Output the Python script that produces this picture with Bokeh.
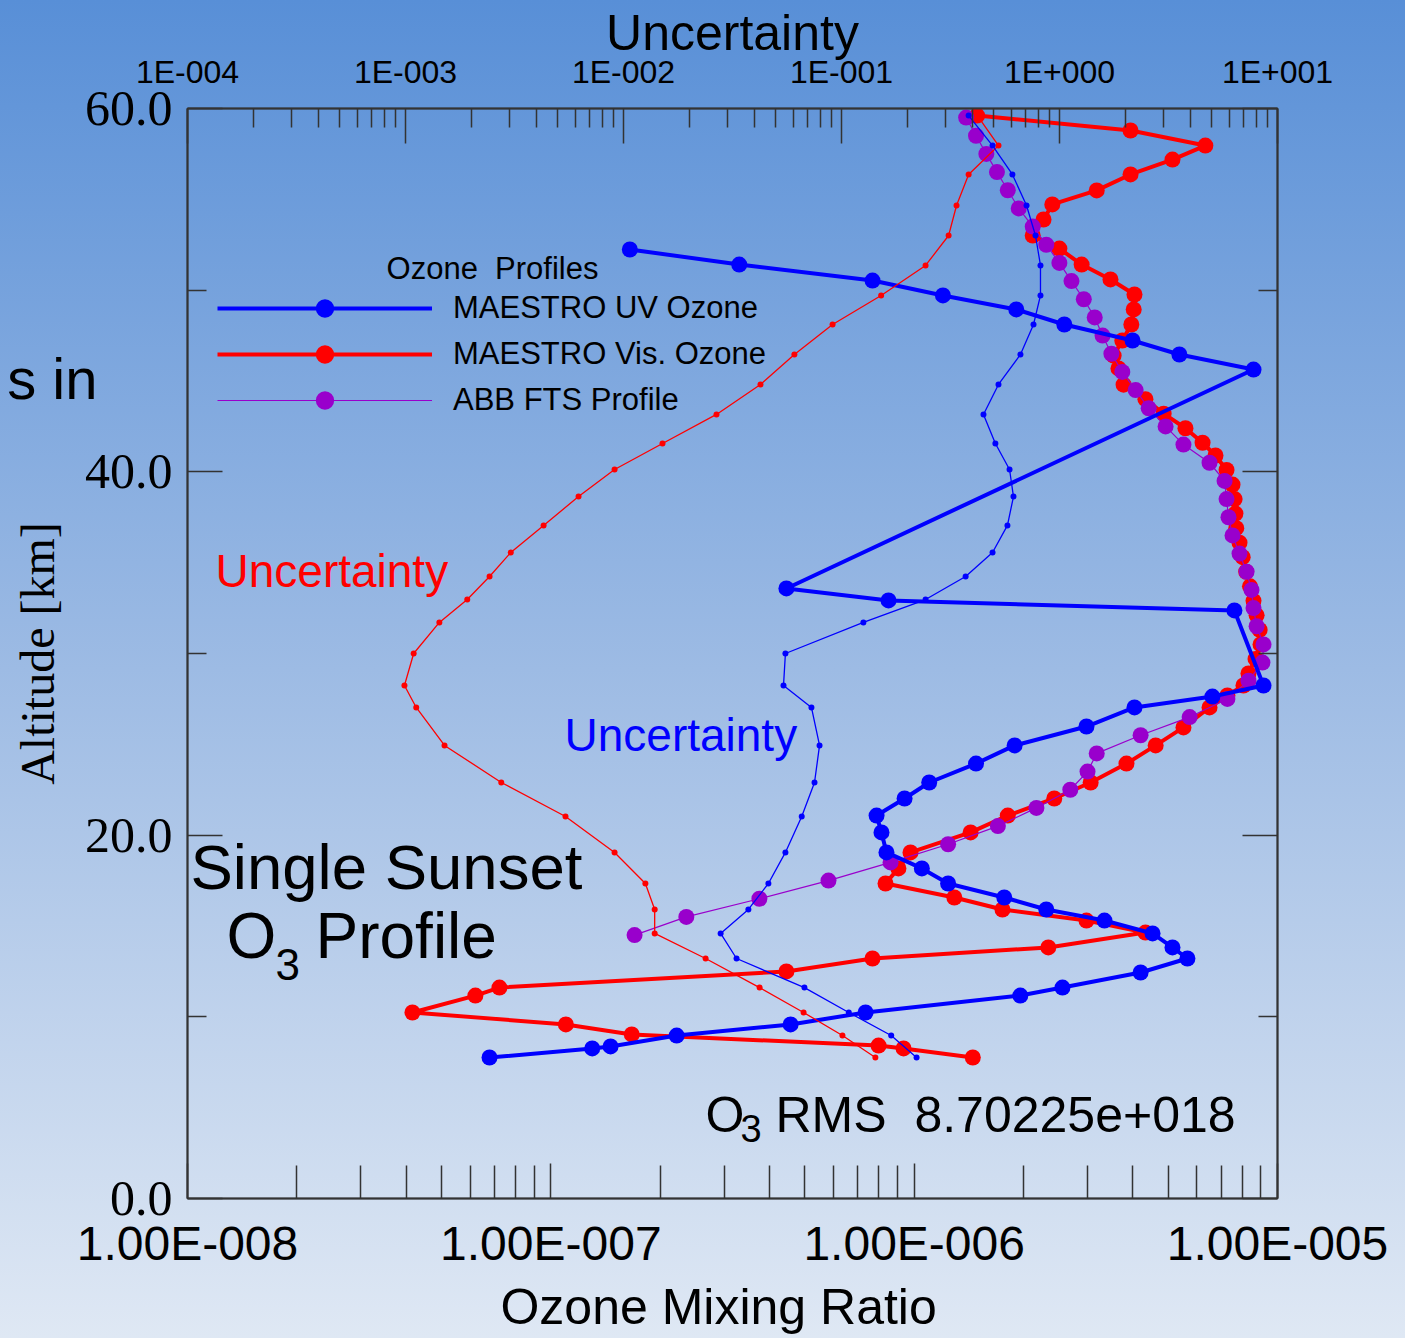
from bokeh.plotting import figure
from bokeh.models import (Range1d, LogAxis, LinearAxis, LogScale, FixedTicker,
                          Legend, LegendItem, Label)
from bokeh.embed import file_html
from bokeh.resources import INLINE

# ---------------------------------------------------------------- data
# MAESTRO UV ozone profile: altitude [km], mixing ratio
uv_alt = [7.76, 8.26, 8.37, 8.97, 9.58, 10.24, 11.17, 11.61, 12.44, 13.21,
          13.82, 14.59, 15.30, 15.91, 16.57, 17.34, 18.17, 19.05, 20.15, 21.08,
          22.02, 22.90, 23.94, 24.94, 25.98, 27.03, 27.63, 28.24, 32.37, 32.92,
          33.58, 45.63, 46.46, 47.23, 48.11, 48.94, 49.71, 50.53, 51.41, 52.24]
uv_o3 = [6.78e-8, 1.30e-7, 1.46e-7, 2.22e-7, 4.57e-7, 7.35e-7, 1.96e-6, 2.56e-6, 4.20e-6, 5.65e-6,
         5.14e-6, 4.53e-6, 3.34e-6, 2.31e-6, 1.77e-6, 1.24e-6, 1.05e-6, 8.39e-7, 8.13e-7, 7.88e-7,
         9.41e-7, 1.10e-6, 1.48e-6, 1.89e-6, 2.98e-6, 4.04e-6, 6.62e-6, 9.15e-6, 7.61e-6, 8.50e-7,
         4.45e-7, 8.59e-6, 5.37e-6, 3.99e-6, 2.59e-6, 1.91e-6, 1.20e-6, 7.68e-7, 3.30e-7, 1.65e-7]

# MAESTRO visible ozone profile
vis_alt = [7.76, 8.26, 8.42, 9.03, 9.58, 10.24, 11.17, 11.61, 12.50, 13.21,
           13.82, 14.64, 15.30, 15.91, 16.57, 17.34, 18.17, 19.05, 20.15, 21.08,
           22.02, 22.90, 23.94, 24.94, 25.93, 27.03, 27.69, 28.24, 28.90, 29.70,
           30.50, 31.30, 32.10, 32.90, 33.70, 34.50, 35.30, 36.10, 36.90, 37.70,
           38.50, 39.30, 40.10, 40.90, 41.60, 42.40, 43.20, 44.00, 44.80, 45.69,
           46.40, 47.23, 48.11, 48.94, 49.76, 50.59, 51.41, 52.29, 53.01, 53.89,
           54.72, 55.49, 56.37, 57.19, 57.96, 58.79, 59.61]
vis_o3 = [1.45e-6, 9.35e-7, 7.98e-7, 1.67e-7, 1.10e-7, 4.16e-8, 6.20e-8, 7.22e-8, 4.45e-7, 7.68e-7,
          2.34e-6, 4.33e-6, 2.98e-6, 1.75e-6, 1.29e-6, 8.34e-7, 9.05e-7, 9.77e-7, 1.43e-6, 1.81e-6,
          2.43e-6, 3.06e-6, 3.84e-6, 4.62e-6, 5.51e-6, 6.50e-6, 7.28e-6, 8.06e-6, 8.32e-6, 8.70e-6,
          8.98e-6, 8.93e-6, 8.76e-6, 8.59e-6, 8.40e-6, 8.20e-6, 8.02e-6, 7.86e-6, 7.70e-6, 7.66e-6,
          7.62e-6, 7.52e-6, 7.24e-6, 6.75e-6, 6.22e-6, 5.58e-6, 4.86e-6, 4.33e-6, 3.77e-6, 3.65e-6,
          3.54e-6, 3.74e-6, 3.96e-6, 4.02e-6, 4.04e-6, 3.47e-6, 2.89e-6, 2.51e-6, 2.12e-6, 2.27e-6,
          2.40e-6, 3.18e-6, 3.94e-6, 5.14e-6, 6.33e-6, 3.94e-6, 1.49e-6]

# ACE FTS profile
fts_alt = [14.5, 15.5, 16.5, 17.5, 18.5, 19.5, 20.5, 21.5, 22.5, 23.5,
           24.5, 25.5, 26.5, 27.5, 28.5, 29.5, 30.5, 31.5, 32.5, 33.5,
           34.5, 35.5, 36.5, 37.5, 38.5, 39.5, 40.5, 41.5, 42.5, 43.5,
           44.5, 45.5, 46.5, 47.5, 48.5, 49.5, 50.5, 51.5, 52.5, 53.5,
           54.5, 55.5, 56.5, 57.5, 58.5, 59.5]
fts_o3 = [1.70e-7, 2.36e-7, 3.75e-7, 5.81e-7, 8.61e-7, 1.24e-6, 1.70e-6, 2.17e-6, 2.69e-6, 3.00e-6,
          3.18e-6, 4.20e-6, 5.73e-6, 7.28e-6, 8.32e-6, 9.09e-6, 9.15e-6, 8.76e-6, 8.59e-6, 8.48e-6,
          8.22e-6, 7.86e-6, 7.52e-6, 7.33e-6, 7.24e-6, 7.15e-6, 6.50e-6, 5.51e-6, 4.92e-6, 4.42e-6,
          4.07e-6, 3.74e-6, 3.49e-6, 3.30e-6, 3.14e-6, 2.93e-6, 2.71e-6, 2.51e-6, 2.31e-6, 2.12e-6,
          1.94e-6, 1.81e-6, 1.69e-6, 1.58e-6, 1.48e-6, 1.39e-6]

# retrieval uncertainties (upper axis)
unc_alt = [7.76, 8.97, 10.24, 11.61, 13.21, 14.59, 15.91, 17.34, 19.05, 21.03,
           22.90, 24.94, 27.03, 28.24, 30.00, 31.71, 32.97, 34.24, 35.56, 37.05,
           38.64, 40.13, 41.56, 43.16, 44.81, 46.46, 48.11, 49.71, 51.36, 53.01,
           54.66, 56.37, 57.96, 59.61]
vis_unc = [0.143, 0.101, 0.0670, 0.0421, 0.0238, 0.0139, 0.0139, 0.0126, 0.00910, 0.00542,
           0.00275, 0.00151, 0.00112, 0.000989, 0.00109, 0.00143, 0.00192, 0.00243, 0.00304, 0.00430,
           0.00622, 0.00910, 0.0151, 0.0267, 0.0425, 0.0608, 0.0910, 0.152, 0.243, 0.310,
           0.337, 0.383, 0.525, 0.42]
uv_unc = [0.221, 0.169, 0.108, 0.0676, 0.0330, 0.0279, 0.0374, 0.0462, 0.0553, 0.0657,
          0.0752, 0.0793, 0.0728, 0.0542, 0.0553, 0.126, 0.243, 0.371, 0.493, 0.577,
          0.615, 0.590, 0.508, 0.448, 0.525, 0.662, 0.760, 0.818, 0.818, 0.776,
          0.706, 0.608, 0.493, 0.383]

# axis ticks and their labels
x_ticks = [1e-8, 1e-7, 1e-6, 1e-5]
x_tick_labels = ["1.00E-008", "1.00E-007", "1.00E-006", "1.00E-005"]
unc_ticks = [1e-4, 1e-3, 1e-2, 1e-1, 1.0, 10.0]
unc_tick_labels = ["1E-004", "1E-003", "1E-002", "1E-001", "1E+000", "1E+001"]
alt_ticks = [0, 20, 40, 60]
alt_minor = [10, 30, 50]
alt_tick_labels = ["0.0", "20.0", "40.0", "60.0"]

series_names = ["MAESTRO UV Ozone", "MAESTRO Vis. Ozone", "ABB FTS Profile"]

# ---------------------------------------------------------------- style
W, H = 1405, 1338
FL, FR, FT, FB = 187, 1277, 108, 1198          # frame edges on the page
SANS, SERIF = "Liberation Sans", "Liberation Serif"
BLUE, RED, PURPLE = "#0000ff", "#ff0000", "#9900cc"
AXIS = "#333333"
NBSP = "\u00a0"


def minor_log(decades):
    return [m * 10.0 ** d for d in decades for m in range(2, 10)]


def fx(px):      # page x -> frame screen x
    return px - FL


def fy(py):      # page y -> frame screen y (measured upward from frame bottom)
    return FB - py


p = figure(width=W, height=H, x_axis_type="log",
           x_range=Range1d(1e-8, 1e-5), y_range=Range1d(0, 60),
           output_backend="svg", toolbar_location=None,
           min_border_left=FL, min_border_right=W - FR,
           min_border_top=FT, min_border_bottom=H - FB)
p.extra_x_ranges = {"unc": Range1d(1e-4, 10.0)}
p.extra_x_scales = {"unc": LogScale()}

p.background_fill_color = None
p.border_fill_color = None
p.styles = {"background": "linear-gradient(to bottom, #588fd7 0%, #9dbbe4 50%, #dfe8f4 100%)"}
p.outline_line_color = AXIS
p.outline_line_width = 1.5
p.xgrid.visible = False
p.ygrid.visible = False


def style_axis(ax, major_in, minor_in):
    ax.axis_line_color = AXIS
    ax.axis_line_width = 2
    ax.major_tick_line_color = AXIS
    ax.minor_tick_line_color = AXIS
    ax.major_tick_line_width = 1.5
    ax.minor_tick_line_width = 1.5
    ax.major_tick_in = major_in
    ax.major_tick_out = 0
    ax.minor_tick_in = minor_in
    ax.minor_tick_out = 0
    ax.major_label_text_color = "black"
    ax.axis_label_text_color = "black"
    ax.axis_label_text_font_style = "normal"


# bottom: mixing ratio
xb = p.xaxis[0]
xb.ticker = FixedTicker(ticks=x_ticks, minor_ticks=minor_log([-8, -7, -6]))
xb.major_label_overrides = dict(zip(x_ticks, x_tick_labels))
xb.axis_label = "Ozone Mixing Ratio" + NBSP * 2
style_axis(xb, 35, 33)
xb.major_label_text_font = SANS
xb.major_label_text_font_size = "48px"
xb.major_label_standoff = 18
xb.axis_label_text_font = SANS
xb.axis_label_text_font_size = "50px"
xb.axis_label_standoff = 6

# left: altitude
yl = p.yaxis[0]
yl.ticker = FixedTicker(ticks=alt_ticks, minor_ticks=alt_minor)
yl.major_label_overrides = dict(zip(alt_ticks, alt_tick_labels))
yl.axis_label = "Altitude [km]"
style_axis(yl, 35, 19)
yl.major_label_text_font = SERIF
yl.major_label_text_font_size = "50px"
yl.major_label_standoff = 15
yl.axis_label_text_font = SERIF
yl.axis_label_text_font_size = "48px"
yl.axis_label_standoff = 18

# top: uncertainty
xt = LogAxis(x_range_name="unc",
             ticker=FixedTicker(ticks=unc_ticks, minor_ticks=minor_log([-4, -3, -2, -1, 0])),
             axis_label="Uncertainty")
xt.major_label_overrides = dict(zip(unc_ticks, unc_tick_labels))
style_axis(xt, 35, 19)
xt.major_label_text_font = SANS
xt.major_label_text_font_size = "32px"
xt.major_label_standoff = 19
xt.axis_label_text_font = SANS
xt.axis_label_text_font_size = "50px"
xt.axis_label_standoff = -10
p.add_layout(xt, "above")

# right: plain tick marks
yr = LinearAxis(ticker=FixedTicker(ticks=alt_ticks, minor_ticks=alt_minor))
yr.major_label_overrides = {t: "" for t in alt_ticks}
style_axis(yr, 35, 19)
p.add_layout(yr, "right")

# end of the slide heading at the far left: carried as the single label of a
# bare outer axis, so it is drawn beside the frame rather than clipped by it
HEAD_ALT = 45.14
head = LinearAxis(ticker=FixedTicker(ticks=[HEAD_ALT], minor_ticks=[]),
                  major_label_overrides={HEAD_ALT: "s in"})
head.axis_line_color = None
head.major_tick_line_color = None
head.minor_tick_line_color = None
head.major_tick_in = 0
head.major_tick_out = 0
head.major_label_text_font = SANS
head.major_label_text_font_size = "58px"
head.major_label_text_color = "black"
head.major_label_standoff = -90
p.add_layout(head, "left")

# ---------------------------------------------------------------- marks
vis_line = p.line(vis_o3, vis_alt, line_color=RED, line_width=4)
vis_dots = p.scatter(vis_o3, vis_alt, size=16, fill_color=RED, line_color=None)

fts_line = p.line(fts_o3, fts_alt, line_color=PURPLE, line_width=1.2)
fts_dots = p.scatter(fts_o3, fts_alt, size=16, fill_color=PURPLE, line_color=None)

uv_line = p.line(uv_o3, uv_alt, line_color=BLUE, line_width=4)
uv_dots = p.scatter(uv_o3, uv_alt, size=16, fill_color=BLUE, line_color=None)

p.line(vis_unc, unc_alt, x_range_name="unc", line_color=RED, line_width=1.3)
p.scatter(vis_unc, unc_alt, x_range_name="unc", size=6, fill_color=RED, line_color=None)
p.line(uv_unc, unc_alt, x_range_name="unc", line_color=BLUE, line_width=1.3)
p.scatter(uv_unc, unc_alt, x_range_name="unc", size=6, fill_color=BLUE, line_color=None)

legend = Legend(items=[LegendItem(label=series_names[0], renderers=[uv_line, uv_dots]),
                       LegendItem(label=series_names[1], renderers=[vis_line, vis_dots]),
                       LegendItem(label=series_names[2], renderers=[fts_line, fts_dots])],
                location=(fx(217), fy(423)), glyph_width=215, glyph_height=46, spacing=0,
                label_standoff=21, padding=0, margin=0, border_line_color=None,
                background_fill_alpha=0, label_text_font=SANS, label_text_font_size="31px",
                label_text_color="black")
p.add_layout(legend)


def label(text, px, py, size, color="black", font=SANS, align="left"):
    # py is the vertical middle of the text line on the page
    p.add_layout(Label(x=fx(px), y=fy(py), x_units="screen", y_units="screen", text=text,
                       text_font=font, text_font_size=size, text_color=color,
                       text_align=align, text_baseline="middle"))


label("Ozone" + NBSP + " Profiles", 492, 268, "31px", align="center")
label("Uncertainty", 215, 570, "46px", color=RED)
label("Uncertainty", 564, 734, "46px", color=BLUE)
label("Single Sunset", 190, 866, "63.5px")
label("O", 226, 935, "64px")
label("3", 275, 964, "44px")
label("Profile", 315, 935, "64px")
label("O", 705, 1114, "50px")
label("3", 740, 1128, "38px")
label("RMS" + NBSP + " 8.70225e+018", 775, 1114, "50px")

open("out.html", "w").write(file_html(p, INLINE))
